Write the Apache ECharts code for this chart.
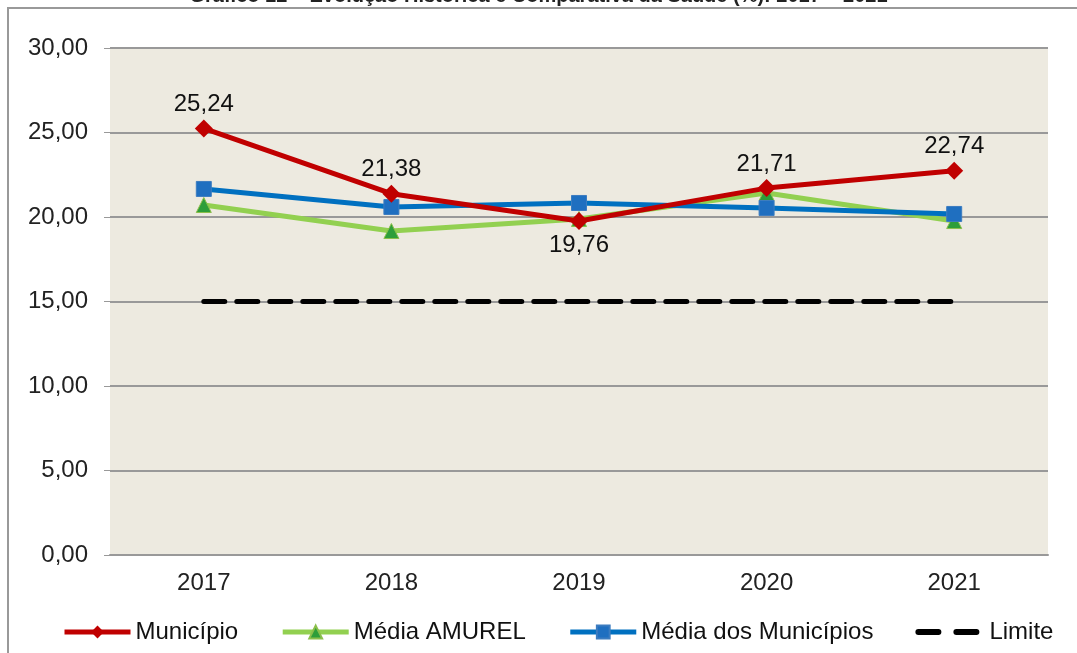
<!DOCTYPE html>
<html>
<head>
<meta charset="utf-8">
<title>Evolução Histórica e Comparativa da Saúde</title>
<script src="https://cdn.jsdelivr.net/npm/echarts@6/dist/echarts.min.js"></script>
<style>
  html, body { margin: 0; padding: 0; background: #fff; }
  #chart { width: 1077px; height: 653px; }
</style>
</head>
<body>
<div id="chart"></div>
<script>
// dados
const anos = ['2017', '2018', '2019', '2020', '2021']
const municipio = [25.24, 21.38, 19.76, 21.71, 22.74]
const mediaAmurel = [20.71, 19.17, 19.88, 21.42, 19.76]
const mediaMunicipios = [21.66, 20.59, 20.83, 20.53, 20.18]
const limite = [15, 15, 15, 15, 15]
const yTicks = [0, 5, 10, 15, 20, 25, 30]

const fmt = v => v.toFixed(2).replace('.', ',')
const fonte = 'Liberation Sans, Arial, sans-serif'

const chart = echarts.init(document.getElementById('chart'))

const option = {
  animation: false,
  textStyle: { fontFamily: fonte },
  title: {
    text: 'Gráfico 12 – Evolução Histórica e Comparativa da Saúde (%): 2017 – 2021',
    left: 'center',
    top: -19,
    textStyle: { fontSize: 20, fontWeight: 'bold', color: '#222', fontFamily: fonte }
  },
  graphic: [
    {
      type: 'rect',
      shape: { x: 8, y: 8, width: 1100, height: 700 },
      style: { fill: 'none', stroke: '#999', lineWidth: 2 },
      silent: true
    }
  ],
  grid: {
    left: 110,
    right: 29,
    top: 48,
    bottom: 98,
    show: true,
    backgroundColor: '#EDEAE0',
    borderWidth: 0
  },
  legend: {
    bottom: 4,
    left: 57,
    itemWidth: 66,
    itemHeight: 16,
    itemGap: 42,
    textStyle: { fontSize: 24, color: '#111', fontFamily: fonte },
    data: [
      { name: 'Município', lineStyle: { width: 5 } },
      { name: 'Média AMUREL', lineStyle: { width: 5 } },
      { name: 'Média dos Municípios', lineStyle: { width: 5 } },
      { name: 'Limite', lineStyle: { width: 6, type: [20, 18] }, itemStyle: { opacity: 0 } }
    ]
  },
  xAxis: {
    type: 'category',
    data: anos,
    boundaryGap: true,
    axisTick: { show: false },
    axisLine: { lineStyle: { color: '#999', width: 2 } },
    axisLabel: { fontSize: 24, color: '#222', margin: 16 }
  },
  yAxis: {
    type: 'value',
    min: yTicks[0],
    max: yTicks[yTicks.length - 1],
    interval: 5,
    axisLine: { show: false },
    axisTick: { show: true, length: 6, lineStyle: { color: '#999' } },
    axisLabel: { fontSize: 24, color: '#222', margin: 22, formatter: v => fmt(v) },
    splitLine: { lineStyle: { color: '#999', width: 2 } }
  },
  series: [
    {
      name: 'Limite',
      type: 'line',
      data: limite,
      symbol: 'circle',
      showSymbol: false,
      z: 2,
      lineStyle: { color: '#000', width: 5, type: [21, 12], cap: 'round' },
      itemStyle: { color: '#000' }
    },
    {
      name: 'Média AMUREL',
      type: 'line',
      data: mediaAmurel,
      symbol: 'triangle',
      symbolSize: 15,
      z: 3,
      lineStyle: { color: '#92D050', width: 5 },
      itemStyle: { color: '#2E9E3A', borderColor: '#8BBF4A', borderWidth: 1 }
    },
    {
      name: 'Média dos Municípios',
      type: 'line',
      data: mediaMunicipios,
      symbol: 'rect',
      symbolSize: 15,
      z: 4,
      lineStyle: { color: '#0070C0', width: 5 },
      itemStyle: { color: '#1F6FC0', borderColor: '#3C7CC0', borderWidth: 1 }
    },
    {
      name: 'Município',
      type: 'line',
      data: municipio,
      symbol: 'diamond',
      symbolSize: 18,
      z: 5,
      lineStyle: { color: '#C00000', width: 5 },
      itemStyle: { color: '#C00000' },
      label: {
        show: true,
        position: 'top',
        distance: 3,
        fontSize: 24,
        color: '#111',
        formatter: p => fmt(p.value)
      },
      labelLayout: { hideOverlap: false },
      emphasis: { disabled: true }
    }
  ]
}

// rótulo de 2019 fica abaixo do ponto
option.series[3].data = municipio.map((v, i) =>
  i === 2 ? { value: v, label: { position: 'bottom', distance: 3 } } : v
)

chart.setOption(option)
</script>
</body>
</html>
